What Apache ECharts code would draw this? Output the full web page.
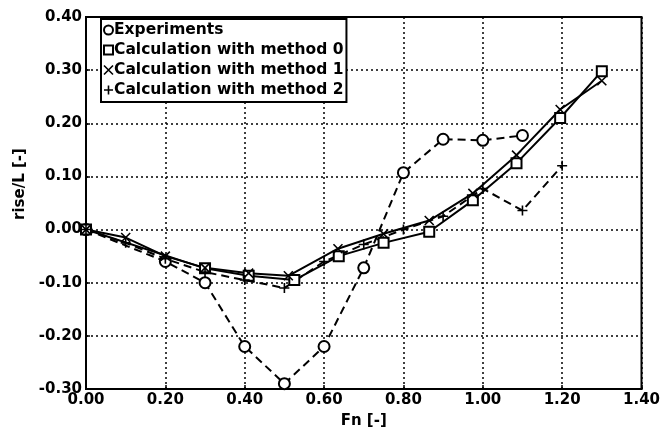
<!DOCTYPE html>
<html>
<head>
<meta charset="utf-8">
<script src="https://cdn.jsdelivr.net/npm/echarts@6/dist/echarts.min.js"></script>
<style>
  html, body { margin: 0; padding: 0; background: #fff; }
  #chart { width: 663px; height: 434px; }
</style>
</head>
<body>
<div id="chart"></div>
<script>
// values
const fnExp = [0, 0.2, 0.3, 0.4, 0.5, 0.6, 0.7, 0.8, 0.9, 1.0, 1.1];
const riseExp = [0, -0.06, -0.10, -0.22, -0.29, -0.22, -0.072, 0.107, 0.17, 0.168, 0.177];

const fnM0 = [0, 0.3, 0.41, 0.525, 0.637, 0.75, 0.865, 0.975, 1.085, 1.195, 1.3];
const riseM0 = [0, -0.073, -0.087, -0.095, -0.05, -0.025, -0.004, 0.055, 0.125, 0.21, 0.298];

const fnM1 = [0, 0.1, 0.2, 0.3, 0.41, 0.51, 0.635, 0.75, 0.865, 0.975, 1.085, 1.195, 1.3];
const riseM1 = [0, -0.015, -0.05, -0.072, -0.082, -0.087, -0.036, -0.008, 0.017, 0.068, 0.14, 0.226, 0.28];

const fnM2 = [0, 0.1, 0.2, 0.3, 0.4, 0.5, 0.6, 0.7, 0.8, 0.9, 1.0, 1.1, 1.2];
const riseM2 = [0, -0.025, -0.055, -0.08, -0.095, -0.11, -0.06, -0.028, 0.0, 0.025, 0.077, 0.036, 0.12];

const names = ['Experiments', 'Calculation with method 0', 'Calculation with method 1', 'Calculation with method 2'];

const xMark = 'path://M0,0L10,10M10,0L0,10';
const plusMark = 'path://M5,0L5,10M0,5L10,5';

const zip = (xs, ys) => xs.map((x, i) => [x, ys[i]]);
const font = 'DejaVu Sans';

const chart = echarts.init(document.getElementById('chart'));

function mkSeries(name, data, symbol, type, size) {
  return {
    name: name,
    type: 'line',
    data: data,
    symbol: symbol,
    symbolSize: size,
    showAllSymbol: true,
    lineStyle: { color: '#000', width: 2, type: type },
    itemStyle: { color: '#000', borderColor: '#000', borderWidth: 1.6 },
    emphasis: { disabled: true },
    animation: false
  };
}

const axisText = { fontFamily: font, fontWeight: 'bold', fontSize: 15, color: '#000' };

chart.setOption({
  backgroundColor: '#fff',
  animation: false,
  grid: { left: 86, right: 20, top: 17, bottom: 41, show: true, borderColor: '#000', borderWidth: 2, backgroundColor: 'transparent' },
  legend: {
    left: 101,
    top: 19,
    orient: 'vertical',
    backgroundColor: '#fff',
    borderColor: '#000',
    borderWidth: 2,
    borderRadius: 0,
    padding: [3, 3, 4, 2],
    itemGap: 4,
    itemWidth: 9,
    itemHeight: 9,
    textStyle: { fontFamily: font, fontWeight: 'bold', fontSize: 15.5, color: '#000', padding: [0, 0, 0, -4] },
    itemStyle: { color: '#000', borderColor: '#000', borderWidth: 1.6 },
    data: [
      { name: names[0], icon: 'emptyCircle' },
      { name: names[1], icon: 'emptyRect' },
      { name: names[2], icon: xMark },
      { name: names[3], icon: plusMark }
    ]
  },
  xAxis: {
    type: 'value',
    min: 0,
    max: 1.4,
    interval: 0.2,
    name: 'Fn [-]',
    nameLocation: 'middle',
    nameGap: 25,
    nameTextStyle: axisText,
    axisLine: { onZero: false, lineStyle: { color: '#000', width: 2 } },
    axisTick: { inside: true, length: 4, lineStyle: { color: '#000', width: 1.5 } },
    axisLabel: Object.assign({ margin: 4, formatter: v => v.toFixed(2) }, axisText),
    splitLine: { lineStyle: { color: '#000', type: [2, 3], width: 1.5 } }
  },
  yAxis: {
    type: 'value',
    min: -0.3,
    max: 0.4,
    interval: 0.1,
    name: 'rise/L [-]',
    nameLocation: 'middle',
    nameGap: 58,
    nameRotate: 90,
    nameTextStyle: Object.assign({ padding: [0, 0, 0, 38] }, axisText),
    axisLine: { onZero: false, lineStyle: { color: '#000', width: 2 } },
    axisTick: { inside: true, length: 4, lineStyle: { color: '#000', width: 1.5 } },
    axisLabel: Object.assign({ margin: 4, formatter: v => v.toFixed(2) }, axisText),
    splitLine: { lineStyle: { color: '#000', type: [2, 3], width: 1.5 } }
  },
  series: [
    mkSeries(names[0], zip(fnExp, riseExp), 'emptyCircle', [8, 5], 11),
    mkSeries(names[1], zip(fnM0, riseM0), 'emptyRect', 'solid', 10),
    mkSeries(names[2], zip(fnM1, riseM1), xMark, 'solid', 9),
    mkSeries(names[3], zip(fnM2, riseM2), plusMark, [8, 5], 10)
  ]
});
</script>
</body>
</html>
